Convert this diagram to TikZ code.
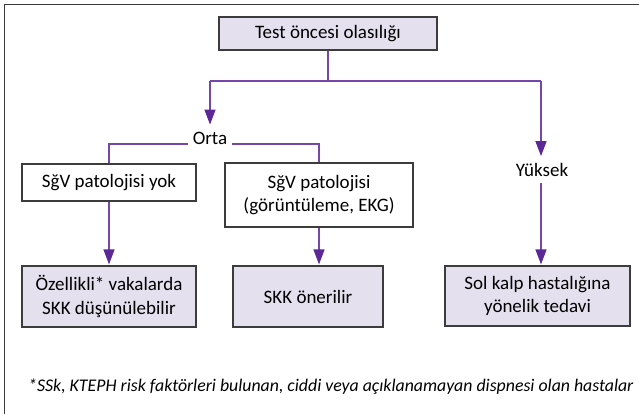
\documentclass[tikz,border=0pt]{standalone}
\usepackage{fontspec}
\setmainfont{Carlito}
\usetikzlibrary{arrows.meta}
\definecolor{boxfill}{RGB}{228,224,238}
\definecolor{linkpurple}{RGB}{118,70,168}
\definecolor{tippurple}{RGB}{92,40,150}
\definecolor{framegray}{RGB}{60,60,60}
\tikzset{
  boxtext/.style={font=\fontsize{19}{23.5}\selectfont},
  filledbox/.style={boxtext, draw=framegray, line width=1.2pt, fill=boxfill, inner sep=0pt, align=center},
  plainbox/.style={boxtext, draw=framegray, line width=1.2pt, fill=white, inner sep=0pt, align=center},
  label/.style={boxtext, inner xsep=5pt, inner ysep=6pt},
  link/.style={draw=linkpurple, line width=1.3pt},
  arrowlink/.style={link, -{Triangle[width=11pt,length=15pt,color=tippurple]}, shorten >=1pt},
}
\begin{document}
\begin{tikzpicture}[x=1pt,y=-1pt]
\useasboundingbox (0,0) rectangle (639,414);
% outer frame (top and left edges)
\draw[framegray, line width=1.6pt] (639,4.5) -- (4.5,4.5) -- (4.5,414);

% boxes
\node[filledbox, minimum width=218pt, minimum height=33pt] (root) at (328,33.5) {Test öncesi olasılığı};
\node[label] (orta) at (210,138) {Orta};
\node[plainbox, minimum width=174pt, minimum height=37pt] (noPath) at (109,182.5) {SğV patolojisi yok};
\node[plainbox, minimum width=188pt, minimum height=64pt] (path) at (319,195) {SğV patolojisi\\(görüntüleme, EKG)};
\node[label] (high) at (542,170) {Yüksek};
\node[filledbox, minimum width=174pt, minimum height=61pt] (consider) at (109,296.5) {Özellikli* vakalarda\\SKK düşünülebilir};
\node[filledbox, minimum width=150pt, minimum height=61pt] (recommend) at (308,296.5) {SKK önerilir};
\node[filledbox, minimum width=185pt, minimum height=60pt] (treat) at (537.5,296) {Sol kalp hastalığına\\yönelik tedavi};

% footnote
\node[anchor=west, inner sep=0pt, font=\fontsize{17.8}{20}\selectfont\itshape] (note) at (28,387) {*SSk, KTEPH risk faktörleri bulunan, ciddi veya açıklanamayan dispnesi olan hastalar};

% connectors
\coordinate (split) at (root.south |- 0,81);
\coordinate (splitL) at (orta.north |- split);
\coordinate (splitR) at (541,81);
\draw[link] (root.south) -- (split);
\draw[link] (splitL) -- (splitR);
\draw[arrowlink] (splitL) -- (orta.north);
\draw[arrowlink] (splitR) -- (splitR |- high.north);
\draw[link] (orta.base west) -| (noPath.north);
\draw[link] (orta.base east) -| (path.north);
\draw[arrowlink] (splitR |- high.south) -- (splitR |- treat.north);
\draw[arrowlink] (noPath.south) -- (noPath.south |- consider.north);
\draw[arrowlink] (path.south) -- (path.south |- recommend.north);
\end{tikzpicture}
\end{document}
